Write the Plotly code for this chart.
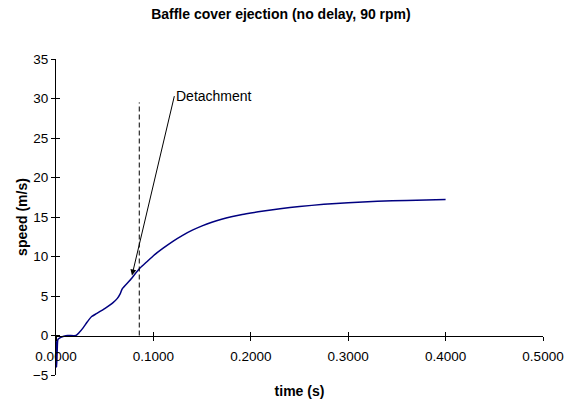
import plotly.graph_objects as go

# Data
time_s = [0.0, 0.0003, 0.0006, 0.0012, 0.002, 0.004, 0.008, 0.012, 0.0205,
          0.024, 0.028, 0.032, 0.0366, 0.042, 0.05, 0.058, 0.063, 0.066, 0.068,
          0.076, 0.086, 0.093, 0.1, 0.11, 0.12, 0.13, 0.14, 0.15,
          0.16, 0.17, 0.18, 0.19, 0.2, 0.215, 0.23, 0.25, 0.275, 0.3, 0.33,
          0.36, 0.4]
speed_ms = [0.0, -3.5, -4.0, -2.0, -0.5, -0.3, -0.1, 0.0, 0.0,
            0.4, 1.0, 1.7, 2.4, 2.8, 3.4, 4.1, 4.7, 5.3, 5.9,
            7.0, 8.5, 9.3, 10.1, 11.05, 11.92, 12.68, 13.33, 13.88,
            14.34, 14.72, 15.03, 15.29, 15.5, 15.8, 16.05, 16.33, 16.6, 16.8, 16.98,
            17.1, 17.22]

detach_t = [0.0855, 0.0855]
detach_v = [0.0, 29.5]

arrow_head = (0.078, 7.6)
arrow_tail = (0.1215, 30.3)

x_ticks = [0.0, 0.1, 0.2, 0.3, 0.4, 0.5]
y_ticks = [-5, 0, 5, 10, 15, 20, 25, 30, 35]

FONT = "Liberation Sans, Arial, sans-serif"

fig = go.Figure()
fig.add_trace(go.Scatter(x=time_s, y=speed_ms, mode="lines",
                         line=dict(color="#000080", width=1.5, shape="spline", smoothing=0.6),
                         showlegend=False, hoverinfo="skip"))
fig.add_trace(go.Scatter(x=detach_t, y=detach_v, mode="lines",
                         line=dict(color="black", width=1, dash="5px,3px"),
                         showlegend=False, hoverinfo="skip"))
# empty trace to create overlay axes (cross ticks)
fig.add_trace(go.Scatter(x=[None], y=[None], xaxis="x2", yaxis="y2",
                         showlegend=False, hoverinfo="skip"))

fig.add_annotation(x=arrow_head[0], y=arrow_head[1], ax=arrow_tail[0], ay=arrow_tail[1],
                   axref="x", ayref="y", xref="x", yref="y",
                   text="Detachment", showarrow=True, arrowhead=2, arrowsize=1.2,
                   arrowwidth=1, arrowcolor="black", xanchor="left", yanchor="middle",
                   font=dict(family=FONT, size=14, color="black"))

axis_common = dict(showgrid=False, zeroline=False, tickfont=dict(family=FONT, size=13.5, color="black"))

fig.update_layout(
    width=571, height=406,
    margin=dict(l=56, r=28, t=59, b=31),
    paper_bgcolor="white", plot_bgcolor="white",
    title=dict(text="<b>Baffle cover ejection (no delay, 90 rpm)</b>",
               x=0.492, xanchor="center", y=0.965, yanchor="middle",
               font=dict(family=FONT, size=14, color="black")),
    xaxis=dict(range=[0, 0.5], tickvals=x_ticks, tickformat=".4f",
               anchor="free", position=0.125, showline=True, linecolor="black", linewidth=1,
               ticks="outside", ticklen=4, tickcolor="black", tickwidth=1,
               ticklabelstandoff=4,
               title=dict(text="<b>time (s)</b>", standoff=23,
                          font=dict(family=FONT, size=14, color="black")),
               automargin=False, **axis_common),
    yaxis=dict(range=[-5, 35], tickvals=y_ticks, anchor="x",
               showline=True, linecolor="black", linewidth=1,
               ticks="outside", ticklen=4, tickcolor="black", tickwidth=1,
               title=dict(text="<b>speed (m/s)</b>", standoff=1,
                          font=dict(family=FONT, size=14, color="black")),
               automargin=False, **axis_common),
    xaxis2=dict(range=[0, 0.5], tickvals=x_ticks, overlaying="x", anchor="free", position=0.125,
                showticklabels=False, ticks="inside", ticklen=4, tickcolor="black",
                showgrid=False, zeroline=False, showline=False),
    yaxis2=dict(range=[-5, 35], tickvals=y_ticks, overlaying="y", anchor="x",
                showticklabels=False, ticks="inside", ticklen=4, tickcolor="black",
                showgrid=False, zeroline=False, showline=False),
)

fig.write_html("out.html", config={"displayModeBar": False},
               post_script="document.body.style.margin='0';")
